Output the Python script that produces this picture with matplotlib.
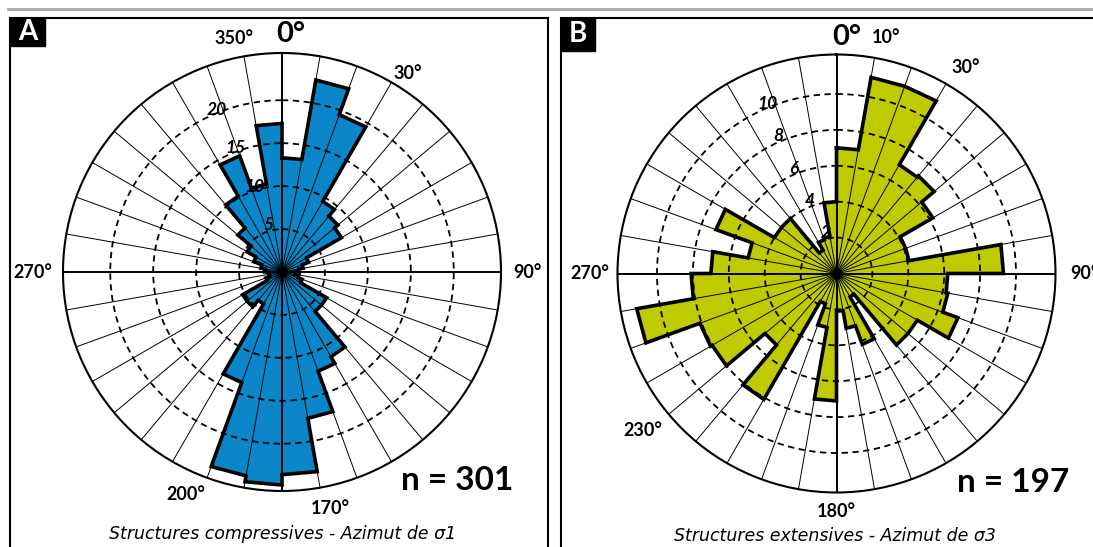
import numpy as np
import matplotlib
matplotlib.use("Agg")
import matplotlib.pyplot as plt
from matplotlib.patches import Rectangle
from matplotlib.lines import Line2D

W, H = 1093, 547

# 10 degree bins, start azimuth of each bin (clockwise from north)
azimuths = np.arange(0, 360, 10)

# Panel A - compressive structures, azimuth of sigma1 (n = 301)
counts_a = [13.3, 22.7, 19.5, 9.5, 8.5, 8.0, 3.3, 2.5, 2.0, 1.5, 2.0, 2.5,
            6.0, 6.0, 11.4, 12.3, 17.3, 23.6, 24.8, 24.1, 13.7, 4.3, 5.3, 5.3,
            2.0, 1.5, 1.5, 2.0, 2.5, 3.5, 4.7, 6.7, 10.2, 14.4, 10.4, 17.3]
rings_a = [5, 10, 15, 20]
rmax_a = 25.5

# Panel B - extensive structures, azimuth of sigma3 (n = 197)
counts_b = [7.0, 11.1, 11.1, 7.0, 7.1, 6.2, 4.1, 4.1, 9.3, 6.2, 6.3, 7.2,
            5.2, 5.2, 1.5, 4.2, 3.1, 2.1, 7.1, 3.05, 1.8, 8.1, 5.2, 8.0,
            8.1, 11.3, 8.1, 7.0, 5.0, 7.15, 4.0, 4.0, 1.5, 2.0, 2.1, 4.0]
rings_b = [2, 4, 6, 8, 10]
rmax_b = 12.2

# direction labels: text, azimuth, radius as fraction of rmax, size
labels_a = [("0°", 2, 1.087, 21), ("350°", 348.4, 1.087, 13), ("30°", 32.3, 1.075, 13),
            ("90°", 90, 1.123, 13), ("270°", 270, 1.137, 13),
            ("200°", 203.4, 1.105, 13), ("170°", 168.5, 1.10, 13)]
labels_b = [("0°", 2.4, 1.082, 21), ("10°", 11.8, 1.10, 13), ("30°", 32.2, 1.11, 13),
            ("270°", 270, 1.125, 13), ("90°", 90, 1.13, 13),
            ("230°", 231, 1.137, 13), ("180°", 180, 1.087, 13)]

FONT = ["Lato", "DejaVu Sans"]


def fig_box(x0, y0, x1, y1):
    # pixel box (top-left origin) -> figure fraction rectangle
    return x0 / W, 1 - y1 / H, (x1 - x0) / W, (y1 - y0) / H


def rose(cx, cy, R, counts, color, rings, rmax, labels):
    ax = fig.add_axes([(cx - R) / W, (H - cy - R) / H, 2 * R / W, 2 * R / H],
                      projection="polar")
    ax.set_theta_zero_location("N")
    ax.set_theta_direction(-1)
    ax.set_facecolor("white")
    th = np.deg2rad(azimuths)
    width = np.deg2rad(10)
    ax.bar(th + width / 2, counts, width=width, color=color, edgecolor="none",
           zorder=1)

    # thick outline of the rose
    t_out, r_out = [], []
    for t, r in zip(th, counts):
        t_out += [t, t + width]
        r_out += [r, r]
    t_out.append(t_out[0])
    r_out.append(r_out[0])
    ax.plot(t_out, r_out, color="black", lw=2.6, zorder=3, solid_joinstyle="miter")

    ax.set_axisbelow(False)
    ax.set_thetagrids(np.arange(0, 360, 10), labels=[""] * 36)
    ax.xaxis.grid(True, color="black", lw=0.7, linestyle="-")
    ax.set_rgrids(rings, labels=[str(r) for r in rings], angle=334,
                  fontstyle="italic", fontweight="bold", fontsize=12.5,
                  family=FONT)
    ax.yaxis.grid(True, color="black", lw=1.3, linestyle=(0, (3.5, 2.5)))
    ax.set_ylim(0, rmax)
    ax.spines["polar"].set_linewidth(1.5)
    for a in (0, 90, 180, 270):
        ax.plot([np.deg2rad(a)] * 2, [0, rmax], color="black", lw=1.4, zorder=2.6)
    ax.plot([0], [0], marker="o", ms=7, color="black", zorder=4)
    for s, a, f, size in labels:
        ax.text(np.deg2rad(a), f * rmax, s, ha="center", va="center",
                fontsize=size, fontweight="bold", family=FONT, clip_on=False)
    return ax


fig = plt.figure(figsize=(W / 100, H / 100), dpi=100)

# top separator and panel frames
fig.add_artist(Line2D([8 / W, 1], [1 - 9 / H] * 2, color="#a6a6a6", lw=2))
fig.add_artist(Rectangle(fig_box(10, 18, 548, 600)[:2], *fig_box(10, 18, 548, 600)[2:],
                         fill=False, ec="black", lw=1.5))
fig.add_artist(Rectangle(fig_box(561, 18, 1110, 600)[:2], *fig_box(561, 18, 1110, 600)[2:],
                         fill=False, ec="black", lw=1.5))

rose(282, 272, 219, counts_a, "#0b87c9", rings_a, rmax_a, labels_a)
rose(836.5, 273.5, 219, counts_b, "#bfcb00", rings_b, rmax_b, labels_b)

# panel letters
for letter, box in (("A", (10, 18, 45, 46)), ("B", (561, 18, 595, 51))):
    x, y, w, h = fig_box(*box)
    fig.add_artist(Rectangle((x, y), w, h, color="black"))
    fig.text(x + w / 2, y + h / 2, letter, color="white", fontsize=20,
             fontweight="bold", ha="center", va="center", family=FONT)

fig.text(457.5 / W, 1 - 481 / H, "n = 301", fontsize=24, fontweight="bold",
         ha="center", va="center", family=FONT)
fig.text(1013 / W, 1 - 483 / H, "n = 197", fontsize=24, fontweight="bold",
         ha="center", va="center", family=FONT)

fig.text(283 / W, 1 - 534 / H, "Structures compressives - Azimut de σ1", fontsize=12.5,
         fontstyle="italic", ha="center", va="center", family=["DejaVu Sans"])
fig.text(835 / W, 1 - 536 / H, "Structures extensives - Azimut de σ3", fontsize=12.5,
         fontstyle="italic", ha="center", va="center", family=["DejaVu Sans"])

fig.savefig("out.png", dpi=100)
